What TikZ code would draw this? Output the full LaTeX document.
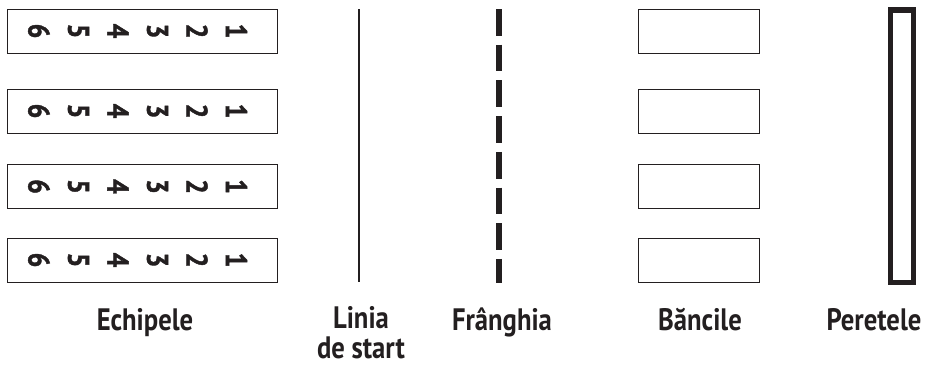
\documentclass[tikz,border=0pt]{standalone}
\usepackage{fontspec}
\newfontfamily\plfont[FakeStretch=0.86]{PT Sans}
\newfontfamily\digfont[FakeStretch=0.86,BoldFeatures={FakeBold=1.3}]{PT Sans}
\definecolor{ink}{RGB}{35,31,32}

\begin{document}
\begin{tikzpicture}[x=1pt,y=-1pt,line cap=butt,line join=miter,
  team/.style={draw=ink,line width=1pt,minimum width=270pt,minimum height=44pt,inner sep=0pt},
  bench/.style={draw=ink,line width=1pt,minimum width=121pt,minimum height=44pt,inner sep=0pt},
  digit/.style={rotate=-90,inner sep=0pt,text=ink,font=\digfont\bfseries\fontsize{30}{30}\selectfont},
  titlu/.style={anchor=base,inner sep=0pt,text=ink,align=center,font=\plfont\bfseries\fontsize{31}{30}\selectfont}]
\useasboundingbox (0,0) rectangle (932,365);
% echipele
\node[team] (e1) at (142,31) {};
\node[team] (e2) at (142,111) {};
\node[team] (e3) at (142,186.5) {};
\node[team] (e4) at (142,260) {};
\node[digit] (e1a) at (39,31) {6};
\node[digit] (e1b) at (78.5,31) {5};
\node[digit] (e1c) at (118,31) {4};
\node[digit] (e1d) at (157.5,31) {3};
\node[digit] (e1e) at (197,31) {2};
\node[digit] (e1f) at (236.5,31) {1};
\node[digit] (e2a) at (39,111) {6};
\node[digit] (e2b) at (78.5,111) {5};
\node[digit] (e2c) at (118,111) {4};
\node[digit] (e2d) at (157.5,111) {3};
\node[digit] (e2e) at (197,111) {2};
\node[digit] (e2f) at (236.5,111) {1};
\node[digit] (e3a) at (39,186.5) {6};
\node[digit] (e3b) at (78.5,186.5) {5};
\node[digit] (e3c) at (118,186.5) {4};
\node[digit] (e3d) at (157.5,186.5) {3};
\node[digit] (e3e) at (197,186.5) {2};
\node[digit] (e3f) at (236.5,186.5) {1};
\node[digit] (e4a) at (39,260) {6};
\node[digit] (e4b) at (78.5,260) {5};
\node[digit] (e4c) at (118,260) {4};
\node[digit] (e4d) at (157.5,260) {3};
\node[digit] (e4e) at (197,260) {2};
\node[digit] (e4f) at (236.5,260) {1};
% linia de start si franghia
\coordinate (ls1) at (359,9);
\coordinate (ls2) at (359,282);
\coordinate (fr1) at (499,9);
\coordinate (fr2) at (499,283);
\draw[ink,line width=2pt] (ls1) -- (ls2);
\draw[ink,line width=5.5pt,dash pattern=on 26.7pt off 9pt] (fr1) -- (fr2);
% bancile
\node[bench] (b1) at (698.5,31) {};
\node[bench] (b2) at (698.5,111) {};
\node[bench] (b3) at (698.5,186.5) {};
\node[bench] (b4) at (698.5,260) {};
% peretele
\node[draw=ink,line width=5.3pt,minimum width=22.7pt,minimum height=272.7pt,inner sep=0pt] (p) at (902,146.3) {};
% etichete
\node[titlu] (te) at (145,330) {Echipele};
\node[titlu] (tl) at (361,358) {Linia\\de start};
\node[titlu] (tf) at (502,330) {Frânghia};
\node[titlu] (tb) at (700,330) {Băncile};
\node[titlu] (tp) at (874,330) {Peretele};
\end{tikzpicture}
\end{document}
